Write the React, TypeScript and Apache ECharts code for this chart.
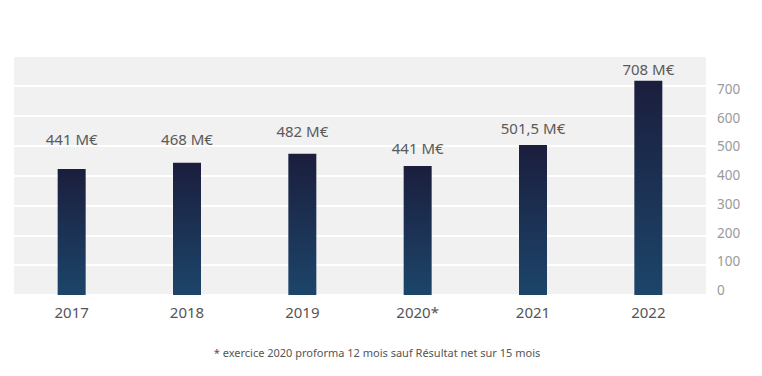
import React, { useEffect, useRef } from "react";
import * as echarts from "echarts";

const categories = ["2017", "2018", "2019", "2020*", "2021", "2022"];
const barValues = [422, 443, 473, 432, 502, 717];
const valueLabels = ["441 M€", "468 M€", "482 M€", "441 M€", "501,5 M€", "708 M€"];
const axisTicks = [0, 100, 200, 300, 400, 500, 600, 700];
const footnote = "* exercice 2020 proforma 12 mois sauf Résultat net sur 15 mois";

const labelGaps = [22, 16, 15, 10, 10, 4];

export default function App() {
  const ref = useRef<HTMLDivElement>(null);
  useEffect(() => {
    if (!ref.current) return;
    const chart = echarts.init(ref.current, undefined, { renderer: "svg" });
    const font = "'Noto Sans', sans-serif";
    chart.setOption({
      animation: false,
      textStyle: { fontFamily: font },
      grid: [
        { left: 14, right: 56, top: 56, height: 239, show: true, backgroundColor: "#f1f1f1", borderWidth: 0 },
        { left: 711, width: 40, top: 89, height: 201 },
      ],
      xAxis: [
        {
          type: "category",
          gridIndex: 0,
          data: categories,
          axisLine: { show: false },
          axisTick: { show: false },
          axisLabel: { fontSize: 15, color: "#555", margin: 9, fontFamily: font },
        },
        { type: "value", gridIndex: 1, show: false },
      ],
      yAxis: [
        {
          type: "value",
          gridIndex: 0,
          min: 0,
          max: 800,
          interval: 100,
          axisLabel: { show: false },
          axisLine: { show: false },
          axisTick: { show: false },
          splitLine: { lineStyle: { color: "#ffffff", width: 2 } },
        },
        {
          type: "value",
          gridIndex: 1,
          min: axisTicks[0],
          max: axisTicks[axisTicks.length - 1],
          interval: 100,
          position: "left",
          axisLine: { show: false },
          axisTick: { show: false },
          splitLine: { show: false },
          axisLabel: { inside: true, margin: 6, fontSize: 13.5, color: "#9a9a9a", fontFamily: font },
        },
      ],
      series: [
        {
          type: "bar",
          xAxisIndex: 0,
          yAxisIndex: 0,
          barWidth: 28,
          data: barValues.map((v, i) => ({
            value: v,
            label: { distance: labelGaps[i] },
          })),
          itemStyle: {
            color: new echarts.graphic.LinearGradient(0, 0, 0, 1, [
              { offset: 0, color: "#1b1e3d" },
              { offset: 1, color: "#1c456a" },
            ]),
          },
          label: {
            show: true,
            position: "top",
            fontSize: 15,
            color: "#5a5a5a",
            fontFamily: font,
            formatter: (p: any) => valueLabels[p.dataIndex],
          },
        },
        { type: "scatter", xAxisIndex: 1, yAxisIndex: 1, data: [] },
      ],
      graphic: [
        {
          type: "text",
          x: 377,
          y: 352,
          style: {
            text: footnote,
            fontSize: 11,
            fill: "#555",
            fontFamily: font,
            textAlign: "center",
            textVerticalAlign: "middle",
          },
        },
      ],
    });
    return () => chart.dispose();
  }, []);
  return <div ref={ref} style={{ position: "absolute", left: 0, top: 0, width: 762, height: 376 }} />;
}
